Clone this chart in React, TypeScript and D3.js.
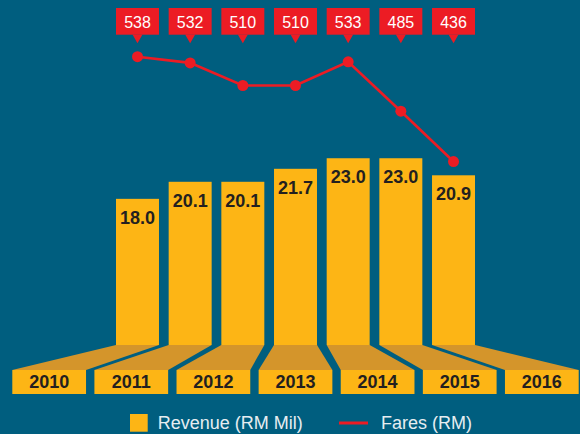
import React from "react";
import * as d3 from "d3";

// chart values
const years = ["2010", "2011", "2012", "2013", "2014", "2015", "2016"];
const revenue = [18.0, 20.1, 20.1, 21.7, 23.0, 23.0, 20.9];
const fares = [538, 532, 510, 510, 533, 485, 436];
const legendLabels = ["Revenue (RM Mil)", "Fares (RM)"];

const W = 580;
const H = 434;
const BG = "#005e7f";
const GOLD = "#fdb515";
const GOLD_DARK = "#d4952b";
const RED = "#ec1c24";
const INK = "#231f20";
const FONT = "'Liberation Sans', Arial, Helvetica, sans-serif";

export default function App() {
  const baseY = 345;
  const floorY = 370;

  const xBar = d3.scaleBand<string>().domain(years).range([116, 475]).paddingInner(0.184).paddingOuter(0);
  const xLabel = d3.scaleBand<string>().domain(years).range([12.3, 578.7]).paddingInner(0.102).paddingOuter(0);
  const yRev = d3.scaleLinear().domain([0, 25]).range([baseY, 142]);
  const yFare = d3.scaleLinear().domain([400, 550]).range([198.5, 44.4]);

  const bw = xBar.bandwidth();
  const lw = xLabel.bandwidth();
  const cx = (y: string) => (xBar(y) as number) + bw / 2;

  const line = d3
    .line<number>()
    .x((d, i) => cx(years[i]))
    .y((d) => yFare(d));

  return (
    <svg width={W} height={H} style={{ position: "absolute", left: 0, top: 0, display: "block" }} fontFamily={FONT}>
      <rect width={W} height={H} fill={BG} />

      {/* floor: trapezoids from each bar to its year box */}
      {years.map((y) => {
        const x0 = xBar(y) as number;
        const l0 = xLabel(y) as number;
        const d = `M${x0},${baseY}L${x0 + bw},${baseY}L${l0 + lw},${floorY}L${l0},${floorY}Z`;
        return <path key={"t" + y} d={d} fill={GOLD_DARK} />;
      })}

      {years.map((y) => (
        <g key={"l" + y}>
          <rect x={xLabel(y)} y={floorY} width={lw} height={24} fill={GOLD} />
          <text x={(xLabel(y) as number) + lw / 2} y={388} textAnchor="middle" fontSize={18} fontWeight="bold" fill={INK}>
            {y}
          </text>
        </g>
      ))}

      {/* bars */}
      {years.map((y, i) => (
        <g key={"b" + y}>
          <rect x={xBar(y)} y={yRev(revenue[i])} width={bw} height={baseY - yRev(revenue[i])} fill={GOLD} />
          <text x={cx(y)} y={yRev(revenue[i]) + 25} textAnchor="middle" fontSize={18} fontWeight="bold" fill={INK}>
            {revenue[i].toFixed(1)}
          </text>
        </g>
      ))}

      {/* fares line */}
      <path d={line(fares) as string} fill="none" stroke={RED} strokeWidth={2.6} />
      {fares.map((v, i) => (
        <circle key={"c" + i} cx={cx(years[i])} cy={yFare(v)} r={5.5} fill={RED} />
      ))}

      {/* callouts */}
      {years.map((y, i) => {
        const x0 = xBar(y) as number;
        const c = cx(y);
        return (
          <g key={"k" + y}>
            <rect x={x0} y={8} width={bw} height={26.7} fill={RED} />
            <path d={`M${c - 5},34.5L${c + 5},34.5L${c},43.3Z`} fill={RED} />
            <text x={c} y={28.3} textAnchor="middle" fontSize={16} fill="#ffffff">
              {fares[i]}
            </text>
          </g>
        );
      })}

      {/* legend */}
      <rect x={130} y={414} width={17.7} height={17.7} fill={GOLD} />
      <text x={157.7} y={429} fontSize={18} fill="#e6edf1">
        {legendLabels[0]}
      </text>
      <line x1={339} x2={368} y1={423} y2={423} stroke={RED} strokeWidth={3} />
      <text x={381} y={429} fontSize={18} fill="#e6edf1">
        {legendLabels[1]}
      </text>
    </svg>
  );
}
